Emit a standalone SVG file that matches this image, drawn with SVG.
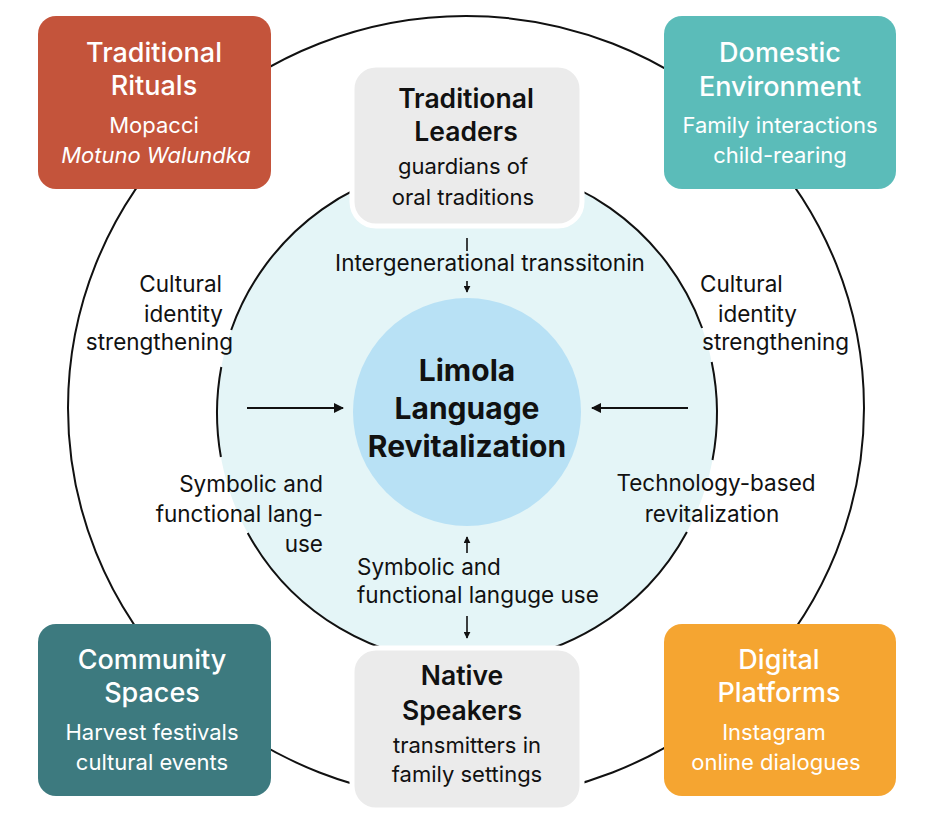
<svg xmlns="http://www.w3.org/2000/svg" width="935" height="815" viewBox="0 0 935 815">
<style>
.t{font-family:Inter,"Noto Sans","Liberation Sans",sans-serif;text-anchor:middle}
.w{fill:#ffffff}
.k{fill:#111111}
.ti{font-size:27px;font-weight:500}
.tk{font-size:26.5px;font-weight:600}
.sb{font-size:22px;font-weight:400}
.lb{font-family:Inter,"Noto Sans","Liberation Sans",sans-serif;font-size:22.5px;fill:#111111}
.ring{fill:none;stroke:#111111;stroke-width:2}
.ar{stroke:#111111;stroke-width:2;fill:none}
.ars{stroke:#111111;stroke-width:1.6;fill:none}
</style>
<defs>
<marker id="ah" viewBox="0 0 10 10" refX="9" refY="5" markerWidth="10" markerHeight="10" markerUnits="userSpaceOnUse" orient="auto">
<path d="M0,0 L10,5 L0,10 z" fill="#111111"/>
</marker>
<marker id="ahs" viewBox="0 0 10 10" refX="9" refY="5" markerWidth="7" markerHeight="7" markerUnits="userSpaceOnUse" orient="auto">
<path d="M0,0 L10,5 L0,10 z" fill="#111111"/>
</marker>
</defs>
<rect width="935" height="815" fill="#ffffff"/>
<g id="background">
<ellipse class="ring" cx="466" cy="408" rx="398" ry="392"/>
<circle cx="467" cy="413" r="250" fill="#e4f5f7"/>
<path class="ring" d="M231.2,330 A250,250 0 0 1 702.1,328"/>
<path class="ring" d="M220.9,457 A250,250 0 0 1 221.3,367"/>
<path class="ring" d="M247.7,533 A250,250 0 0 0 686.9,532"/>
<path class="ring" d="M711.7,362 A250,250 0 0 1 712.5,460"/>
</g>
<g id="connectors">
<line class="ar" x1="247" y1="408" x2="343" y2="408" marker-end="url(#ah)"/>
<line class="ar" x1="688" y1="408" x2="592" y2="408" marker-end="url(#ah)"/>
<line class="ars" x1="467" y1="238" x2="467" y2="251"/>
<line class="ars" x1="467" y1="281" x2="467" y2="292" marker-end="url(#ahs)"/>
<line class="ars" x1="467" y1="553" x2="467" y2="537" marker-end="url(#ahs)"/>
<line class="ars" x1="467" y1="616" x2="467" y2="638" marker-end="url(#ahs)"/>
</g>
<g id="center">
<circle cx="467" cy="412" r="114" fill="#b8e1f5"/>
<text class="t k" style="font-size:30px;font-weight:700" x="467" y="381">Limola</text>
<text class="t k" style="font-size:30px;font-weight:700" x="467" y="419">Language</text>
<text class="t k" style="font-size:30px;font-weight:700" x="467" y="457">Revitalization</text>
</g>
<g id="traditional-rituals">
<rect x="38" y="16" width="233" height="173" rx="18" fill="#c4543b"/>
<text class="t w ti" x="154" y="62">Traditional</text>
<text class="t w ti" x="154" y="95">Rituals</text>
<text class="t w sb" x="154" y="133">Mopacci</text>
<text class="t w sb" x="156" y="163" font-style="italic">Motuno Walundka</text>
</g>
<g id="domestic-environment">
<rect x="664" y="16" width="232" height="173" rx="18" fill="#5bbcb9"/>
<text class="t w ti" x="780" y="62">Domestic</text>
<text class="t w ti" x="780" y="96">Environment</text>
<text class="t w sb" x="780" y="133">Family interactions</text>
<text class="t w sb" x="780" y="163">child-rearing</text>
</g>
<g id="traditional-leaders">
<rect x="352" y="65" width="230" height="161" rx="24" fill="#ebebeb" stroke="#ffffff" stroke-width="5"/>
<text class="t k tk" x="466" y="108">Traditional</text>
<text class="t k tk" x="466" y="141">Leaders</text>
<text class="t k sb" x="463" y="174">guardians of</text>
<text class="t k sb" x="463" y="205">oral traditions</text>
</g>
<g id="community-spaces">
<rect x="38" y="624" width="233" height="172" rx="18" fill="#3d7a7f"/>
<text class="t w ti" x="152" y="669">Community</text>
<text class="t w ti" x="152" y="702">Spaces</text>
<text class="t w sb" x="152" y="740">Harvest festivals</text>
<text class="t w sb" x="152" y="770">cultural events</text>
</g>
<g id="digital-platforms">
<rect x="664" y="624" width="232" height="172" rx="18" fill="#f5a531"/>
<text class="t w ti" x="779" y="669">Digital</text>
<text class="t w ti" x="779" y="702">Platforms</text>
<text class="t w sb" x="774" y="740">Instagram</text>
<text class="t w sb" x="776" y="770">online dialogues</text>
</g>
<g id="native-speakers">
<rect x="352" y="648" width="230" height="162" rx="24" fill="#ebebeb" stroke="#ffffff" stroke-width="5"/>
<text class="t k tk" x="462" y="685">Native</text>
<text class="t k tk" x="462" y="720">Speakers</text>
<text class="t k sb" x="467" y="753">transmitters in</text>
<text class="t k sb" x="467" y="782">family settings</text>
</g>
<g id="labels">
<text class="lb" text-anchor="end" x="222" y="292">Cultural</text>
<text class="lb" text-anchor="end" x="223" y="322">identity</text>
<text class="lb" text-anchor="end" x="233" y="350">strengthening</text>
<text class="lb" x="700" y="292">Cultural</text>
<text class="lb" x="718" y="322">identity</text>
<text class="lb" x="702" y="350">strengthening</text>
<text class="lb" text-anchor="end" x="323" y="492">Symbolic and</text>
<text class="lb" text-anchor="end" x="323" y="522">functional lang-</text>
<text class="lb" text-anchor="end" x="323" y="552">use</text>
<text class="lb" text-anchor="middle" x="716" y="491">Technology-based</text>
<text class="lb" text-anchor="middle" x="712" y="522">revitalization</text>
<text class="lb" text-anchor="middle" x="490" y="271">Intergenerational transsitonin</text>
<text class="lb" x="357" y="575">Symbolic and</text>
<text class="lb" x="357" y="603">functional languge use</text>
</g>
</svg>
